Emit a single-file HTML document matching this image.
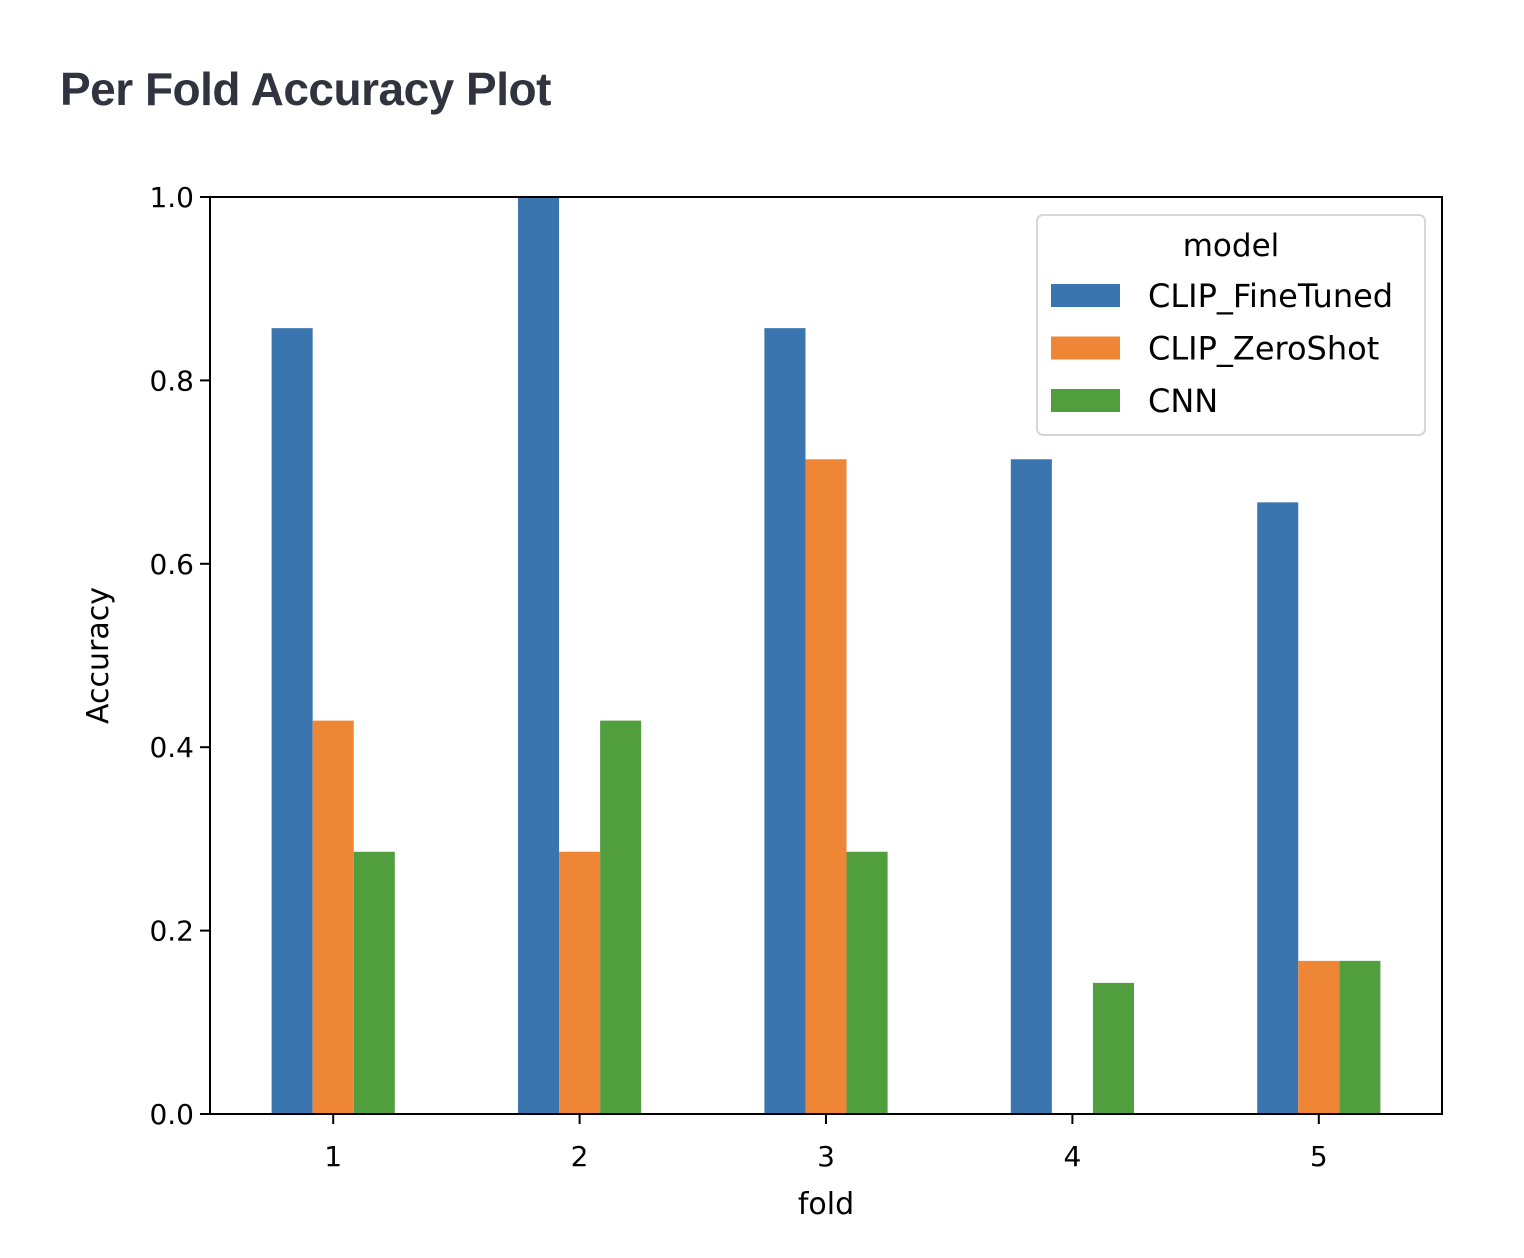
<!DOCTYPE html>
<html><head><meta charset="utf-8"><style>
body{margin:0;background:#fff;width:1524px;height:1258px;overflow:hidden}
h1{position:absolute;left:60px;top:62px;margin:0;font:bold 46px "Liberation Sans",sans-serif;color:#31333f;letter-spacing:-0.5px}
svg text{font-family:"DejaVu Sans","Liberation Sans",sans-serif;fill:#000}
</style></head><body>
<h1>Per Fold Accuracy Plot</h1>
<svg id="c" width="1524" height="1258" style="position:absolute;left:0;top:0"></svg>
<script>
const categories=["1","2","3","4","5"];
const seriesNames=["CLIP_FineTuned","CLIP_ZeroShot","CNN"];
const fineTuned=[0.857,1.0,0.857,0.714,0.667];
const zeroShot=[0.429,0.286,0.714,0,0.167];
const cnn=[0.286,0.429,0.286,0.143,0.167];
const yTicks=[0,0.2,0.4,0.6,0.8,1.0];
const colors=["#3a75af","#ef8636","#519e3e"];
const series=[fineTuned,zeroShot,cnn];
const L=210,R=1442,T=197,B=1114;
const svg=document.getElementById('c');const NS="http://www.w3.org/2000/svg";
function mk(t,a,p){const e=document.createElementNS(NS,t);for(const k in a)e.setAttribute(k,a[k]);(p||svg).appendChild(e);return e;}
const sp=(R-L)/categories.length;
const xC=i=>L+sp*(i+0.5);
const yS=v=>B-(B-T)*v;
const bw=sp/6;
series.forEach((s,si)=>s.forEach((v,i)=>{
 const x=xC(i)-1.5*bw+si*bw;
 const r=mk('rect',{x:x,y:yS(v),width:bw,height:B-yS(v),fill:colors[si]});
 
 
}));
const ax=mk('rect',{x:L,y:T,width:R-L,height:B-T,fill:'none',stroke:'#000','stroke-width':2});

yTicks.forEach(v=>{
 const y=yS(v);mk('line',{x1:L-10,x2:L,y1:y,y2:y,stroke:'#000','stroke-width':2});
 const t=mk('text',{x:L-16,y:y+10,'text-anchor':'end','font-size':28});t.textContent=v.toFixed(1);
 
});
categories.forEach((c,i)=>{
 const x=xC(i);mk('line',{x1:x,x2:x,y1:B,y2:B+10,stroke:'#000','stroke-width':2});
 const t=mk('text',{x:x,y:B+52,'text-anchor':'middle','font-size':28});t.textContent=c;
 
});
let t=mk('text',{x:(L+R)/2,y:1214,'text-anchor':'middle','font-size':30});t.textContent='fold';

t=mk('text',{x:0,y:0,'text-anchor':'middle','font-size':30,transform:'translate(108,'+((T+B)/2)+') rotate(-90)'});t.textContent='Accuracy';

const lg=mk('g',{});
mk('rect',{x:1037,y:215,width:388,height:220,rx:6,fill:'#fff','fill-opacity':0.8,stroke:'#d6d6d6','stroke-width':2},lg);
t=mk('text',{x:1231,y:256,'text-anchor':'middle','font-size':31},lg);t.textContent='model';
seriesNames.forEach((n,i)=>{
 const y=284+i*52.5;
 const p=mk('rect',{x:1051,y:y,width:69,height:23,fill:colors[i]},lg);
 
 const tt=mk('text',{x:1148,y:y+23,'font-size':32},lg);tt.textContent=n;
 
});
</script>
</body></html>
